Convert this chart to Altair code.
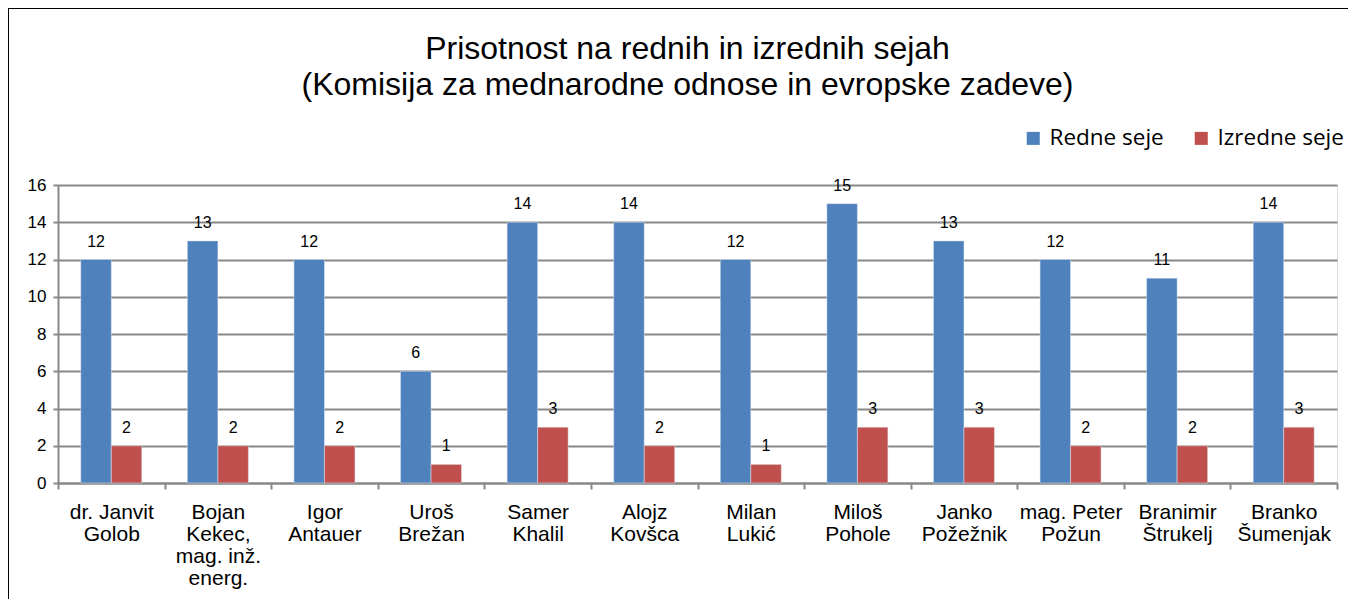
import altair as alt
import pandas as pd

names = [
    "dr. Janvit\nGolob", "Bojan\nKekec,\nmag. inž.\nenerg.", "Igor\nAntauer",
    "Uroš\nBrežan", "Samer\nKhalil", "Alojz\nKovšca", "Milan\nLukić",
    "Miloš\nPohole", "Janko\nPožežnik", "mag. Peter\nPožun",
    "Branimir\nŠtrukelj", "Branko\nŠumenjak",
]
redne = [12, 13, 12, 6, 14, 14, 12, 15, 13, 12, 11, 14]
izredne = [2, 2, 2, 1, 3, 2, 1, 3, 3, 2, 2, 3]
series = ["Redne seje", "Izredne seje"]
colors = ["#4F81BD", "#C0504D"]
y_ticks = [0, 2, 4, 6, 8, 10, 12, 14, 16]

rows = []
for n, r, i in zip(names, redne, izredne):
    rows.append({"name": n, "series": series[0], "value": r})
    rows.append({"name": n, "series": series[1], "value": i})
df = pd.DataFrame(rows)

W, H = 1279, 298
FONT = "Liberation Sans"

x_enc = alt.X("name:N", sort=names, title=None,
              scale=alt.Scale(paddingInner=0, paddingOuter=0),
              axis=alt.Axis(labelAngle=0, labelFontSize=21, labelFont=FONT,
                            labelColor="black", labelLineHeight=22,
                            labelExpr="split(datum.label, '\\n')",
                            labelBaseline="top", labelPadding=12,
                            tickBand="extent", tickSize=6, tickColor="#888888",
                            tickWidth=2, domainColor="#888888", domainWidth=2,
                            grid=False))
xoff = alt.XOffset("series:N", sort=series,
                   scale=alt.Scale(paddingInner=0, paddingOuter=0.747))
y_enc = alt.Y("value:Q", title=None,
              scale=alt.Scale(domain=[0, 16], nice=False),
              axis=alt.Axis(values=y_ticks, labelFontSize=17, labelFont=FONT,
                            labelColor="black", tickSize=5, tickColor="#888888",
                            tickWidth=2, domainColor="#888888", domainWidth=2,
                            gridColor="#888888", gridWidth=2, labelPadding=7,
                            labelOverlap=False))
color = alt.Color("series:N", sort=series,
                  scale=alt.Scale(domain=series, range=colors),
                  legend=alt.Legend(title=None, orient="none", direction="horizontal",
                                    legendX=964, legendY=-58, symbolType="square",
                                    symbolSize=170, symbolStrokeWidth=0,
                                    labelFont="Open Sans", labelFontSize=22.5,
                                    labelColor="black", columnPadding=26,
                                    labelOffset=5, padding=0))

base = alt.Chart(df)
bars = base.mark_bar(stroke="#dfe6f0", strokeWidth=0.5).encode(
    x=x_enc, xOffset=xoff, y=y_enc, color=color)
labels = base.mark_text(font=FONT, fontSize=16, color="black", baseline="bottom",
                        dy=-10).encode(
    x=x_enc, xOffset=xoff, y=y_enc, text="value:Q")

frame = alt.Chart(alt.Data(values=[{"k": 1}])).mark_rect(
    fillOpacity=0, stroke="black", strokeWidth=2).encode(
    x=alt.value(-50), x2=alt.value(W + 200), y=alt.value(-177), y2=alt.value(H + 300))

chart = alt.layer(bars, labels, frame).properties(
    width=W, height=H,
    title=alt.TitleParams(
        text=["Prisotnost na rednih in izrednih sejah",
              "(Komisija za mednarodne odnose in evropske zadeve)"],
        font=FONT, fontSize=32, fontWeight="normal", color="black",
        anchor="middle", frame="group", lineHeight=36, offset=-95, dx=-10),
    autosize=alt.AutoSizeParams(type="none"),
    padding={"left": 50, "top": 177, "right": 11, "bottom": 116},
).configure_view(stroke=None).configure(background="white")

chart.save("out.html", embed_options={"renderer": "svg", "actions": False})
